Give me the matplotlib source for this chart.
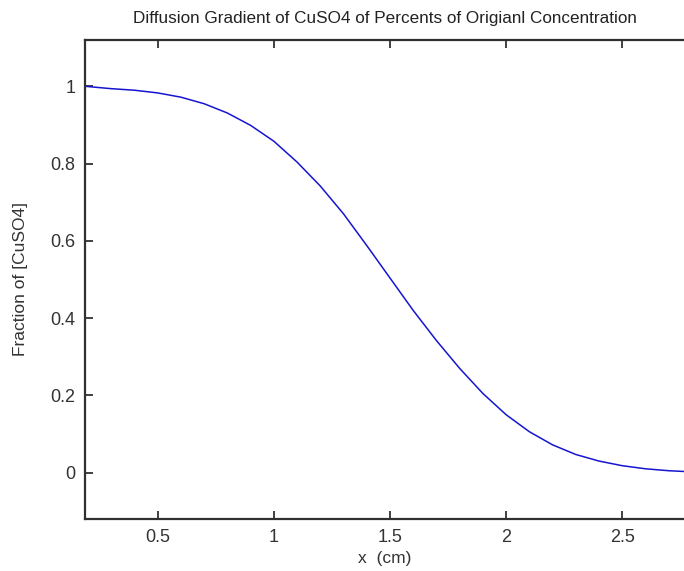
import numpy as np
import matplotlib
matplotlib.use('Agg')
import matplotlib.pyplot as plt

plt.rcParams['font.family'] = ['Liberation Sans', 'DejaVu Sans']

# distance along the tube (cm) and fraction of starting concentration
x_cm = [0.19, 0.3, 0.4, 0.5, 0.6, 0.7, 0.8, 0.9, 1.0, 1.1, 1.2, 1.3, 1.4,
        1.5, 1.6, 1.7, 1.8, 1.9, 2.0, 2.1, 2.2, 2.3, 2.4, 2.5, 2.6, 2.7, 2.8]
frac = [1.0, 0.994, 0.990, 0.983, 0.972, 0.955, 0.931, 0.899, 0.858, 0.804,
        0.742, 0.670, 0.588, 0.504, 0.420, 0.342, 0.270, 0.205, 0.150, 0.106,
        0.072, 0.047, 0.030, 0.018, 0.010, 0.005, 0.002]

xticks = [0.5, 1, 1.5, 2, 2.5]
yticks = [0, 0.2, 0.4, 0.6, 0.8, 1]
ytick_labels = ['0', '0.2', '0.4', '0.6', '0.8', '1']

fig = plt.figure(figsize=(6.84, 5.71), dpi=100)
ax = fig.add_axes([85 / 684, 1 - 519 / 571, 1 - 85 / 684, (519 - 40) / 571])

ax.plot(x_cm, frac, color='#1515d0', lw=1.1)

ax.set_xlim(0.187, 2.766)
ax.set_ylim(-0.12, 1.12)
ax.set_xticks(xticks)
ax.set_xticklabels(['0.5', '1', '1.5', '2', '2.5'])
ax.set_yticks(yticks)
ax.set_yticklabels(ytick_labels)

for s in ['left', 'top', 'bottom']:
    ax.spines[s].set_color('#303030')
    ax.spines[s].set_linewidth(1.6)
ax.spines['right'].set_visible(False)

ax.tick_params(direction='in', length=6, width=1.2, color='#202020',
               labelsize=13, labelcolor='#333333', top=True, pad=7)

ax.set_title('Diffusion Gradient of CuSO4 of Percents of Origianl Concentration',
             fontsize=12.3, color='#222222', pad=12)
ax.set_xlabel('x  (cm)', fontsize=12.5, color='#333333', labelpad=4)
ax.set_ylabel('Fraction of [CuSO4]', fontsize=12.5, color='#333333', labelpad=16)

fig.savefig('out.png', dpi=100, facecolor='white')
